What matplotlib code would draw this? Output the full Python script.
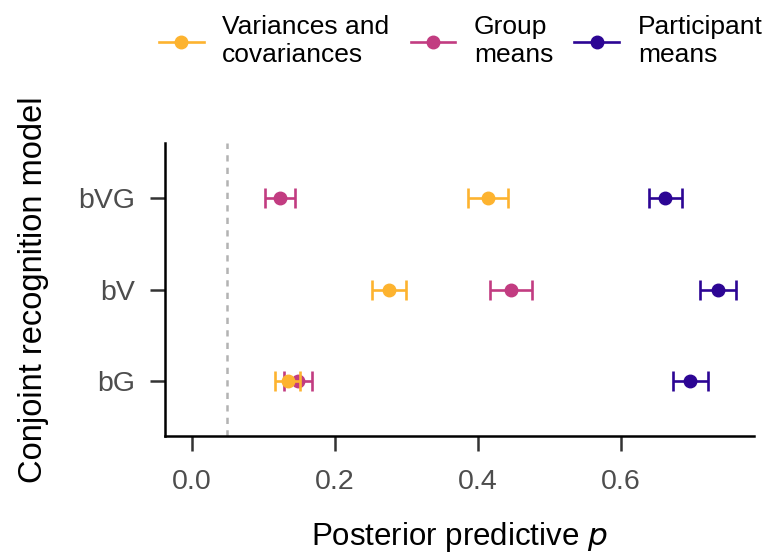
import numpy as np
import matplotlib
matplotlib.use('Agg')
from matplotlib import pyplot as plt

''' posterior predictive p, per model and per statistic '''

models = ['bG', 'bV', 'bVG']          # bottom -> top
series = ['Variances and\ncovariances', 'Group\nmeans', 'Participant\nmeans']
colors = ['#FDB32F', '#C23C81', '#2C0594']

# center, lower, upper  (order of models: bG, bV, bVG)
var_mid = [0.134, 0.276, 0.414]
var_lo = [0.116, 0.252, 0.386]
var_hi = [0.152, 0.300, 0.442]

grp_mid = [0.148, 0.446, 0.123]
grp_lo = [0.129, 0.417, 0.102]
grp_hi = [0.168, 0.475, 0.144]

par_mid = [0.697, 0.735, 0.662]
par_lo = [0.673, 0.711, 0.639]
par_hi = [0.721, 0.760, 0.685]

ref_p = 0.05
xticks = [0.0, 0.2, 0.4, 0.6]

plt.rcParams['font.family'] = ['Liberation Sans', 'DejaVu Sans']

fig = plt.figure(figsize=(7.68, 5.55), dpi=100)
ax = fig.add_axes([0.215, 0.214, 0.767, 0.528])

ypos = np.arange(1, len(models) + 1)
data = [(var_mid, var_lo, var_hi), (grp_mid, grp_lo, grp_hi), (par_mid, par_lo, par_hi)]
zorders = [5, 4, 3]

ax.axvline(ref_p, color='#B3B3B3', ls=(0, (2.5, 2.5)), lw=1.8, zorder=1)

for (mid, lo, hi), c, lab, z in zip(data, colors, series, zorders):
    mid = np.array(mid); lo = np.array(lo); hi = np.array(hi)
    ax.errorbar(mid, ypos, xerr=[mid - lo, hi - mid], fmt='o', color=c,
                ms=9, elinewidth=1.9, capsize=7, capthick=1.9, zorder=z)
    ax.plot([], [], '-o', color=c, ms=9, lw=1.9, label=lab)

ax.set_xlim(-0.037, 0.786)
ax.set_ylim(0.4, 3.6)
ax.set_yticks(ypos)
ax.set_yticklabels(models)
ax.set_xticks(xticks)
ax.set_xticklabels(['%.1f' % t for t in xticks])

for s in ['top', 'right']:
    ax.spines[s].set_visible(False)
for s in ['left', 'bottom']:
    ax.spines[s].set_linewidth(1.8)
ax.tick_params(axis='both', length=10.5, width=1.8, color='#333333',
               labelsize=20.5, labelcolor='#4D4D4D', pad=11)
ax.tick_params(axis='x', pad=13)

ax.set_xlabel('Posterior predictive $\\it{p}$', fontsize=22.5, labelpad=18)
ax.set_ylabel('Conjoint recognition model', fontsize=23.5, labelpad=21)

fig.legend(loc='upper center', bbox_to_anchor=(0.6, 1.015), ncol=3,
           frameon=False, fontsize=19, handlelength=1.7, handletextpad=0.7,
           columnspacing=0.8, labelspacing=0.1)

fig.savefig('out.png', dpi=100)
